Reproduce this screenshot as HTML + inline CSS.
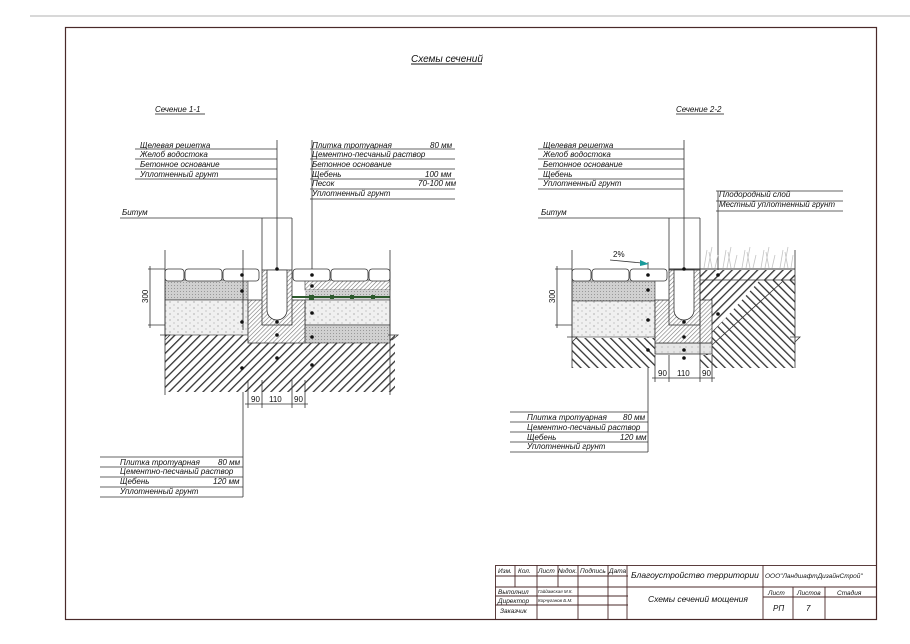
<!DOCTYPE html>
<html><head><meta charset="utf-8"><style>
html,body{margin:0;padding:0;background:#fff}
svg{display:block}
text{font-family:"Liberation Sans",sans-serif;font-style:italic;fill:#111}
</style></head><body>
<svg width="910" height="644" viewBox="0 0 910 644" xmlns="http://www.w3.org/2000/svg">
<defs>
<pattern id="h1" width="6" height="6" patternUnits="userSpaceOnUse" patternTransform="rotate(45)">
<rect width="6" height="6" fill="#fff"/><rect x="0" y="0" width="1.3" height="6" fill="#333"/></pattern>
<pattern id="h2" width="6" height="6" patternUnits="userSpaceOnUse" patternTransform="rotate(-45)">
<rect width="6" height="6" fill="#fff"/><rect x="0" y="0" width="1.3" height="6" fill="#333"/></pattern>
<pattern id="hf" width="3" height="3" patternUnits="userSpaceOnUse" patternTransform="rotate(45)">
<rect width="3" height="3" fill="#fff"/><rect width="0.6" height="3" fill="#777"/></pattern>
<pattern id="cem" width="3" height="3" patternUnits="userSpaceOnUse">
<rect width="3" height="3" fill="#d0d0d0"/><rect width="1" height="1" fill="#999"/></pattern>
<pattern id="sand" width="8" height="6" patternUnits="userSpaceOnUse">
<rect width="8" height="6" fill="#f0f0f0"/><circle cx="2" cy="2" r="0.6" fill="#888"/><circle cx="6" cy="5" r="0.6" fill="#aaa"/></pattern>
<pattern id="lsand" width="6" height="5" patternUnits="userSpaceOnUse">
<rect width="6" height="5" fill="#e6e6e6"/><circle cx="2" cy="2" r="0.5" fill="#888"/></pattern>
</defs>
<line x1="30" y1="16" x2="910" y2="16" stroke="#ccc" stroke-width="1.5"/>
<rect x="65.5" y="27.5" width="811" height="592" fill="none" stroke="#4a2a2a" stroke-width="1.2"/>

<text x="411" y="62" font-size="10">Схемы сечений</text><line x1="411" y1="64" x2="482" y2="64" stroke="#111"/>
<text x="155" y="112" font-size="8">Сечение 1-1</text><line x1="155" y1="114" x2="205" y2="114" stroke="#111" stroke-width=".7"/>
<text x="676" y="112" font-size="8">Сечение 2-2</text><line x1="676" y1="114" x2="724" y2="114" stroke="#111" stroke-width=".7"/>

<g font-size="8" stroke="none">
<text x="140" y="148">Щелевая решетка</text><text x="140" y="157">Желоб водостока</text><text x="140" y="167">Бетонное основание</text><text x="140" y="177">Уплотненный грунт</text>
<text x="312" y="148">Плитка тротуарная</text><text x="430" y="148">80 мм</text>
<text x="312" y="157">Цементно-песчаный раствор</text><text x="312" y="167">Бетонное основание</text>
<text x="312" y="177">Щебень</text><text x="425" y="177">100 мм</text>
<text x="312" y="186">Песок</text><text x="418" y="186">70-100 мм</text>
<text x="312" y="196">Уплотненный грунт</text>
<text x="122" y="215">Битум</text>
<text x="120" y="465">Плитка тротуарная</text><text x="218" y="465">80 мм</text>
<text x="120" y="474">Цементно-песчаный раствор</text>
<text x="120" y="484">Щебень</text><text x="213" y="484">120 мм</text>
<text x="120" y="494">Уплотненный грунт</text>
<text x="543" y="148">Щелевая решетка</text><text x="543" y="157">Желоб водостока</text><text x="543" y="167">Бетонное основание</text><text x="543" y="177">Щебень</text><text x="543" y="186">Уплотненный грунт</text>
<text x="719" y="197">Плодородный слой</text><text x="719" y="207">Местный уплотненный грунт</text>
<text x="541" y="215">Битум</text>
<text x="527" y="420">Плитка тротуарная</text><text x="623" y="420">80 мм</text>
<text x="527" y="430">Цементно-песчаный раствор</text>
<text x="527" y="440">Щебень</text><text x="620" y="440">120 мм</text>
<text x="527" y="449">Уплотненный грунт</text>
</g>

<g stroke="#333" stroke-width=".8" fill="none">
<path d="M135 149H277M135 159H277M135 169H277M135 179H277M277 140V270"/>
<path d="M310 149H455M310 159H455M310 169H455M310 179H455M310 189H455M310 199H455M312 140V372"/>
<path d="M120 218H292M262 218V270M292 218V270"/>
<path d="M100 457H243M100 467H243M100 477H243M100 487H243M100 497H243M243 330V497"/>
<path d="M538 149H684M538 159H684M538 169H684M538 179H684M538 189H684M684 140V270"/>
<path d="M716 191H843M716 201H843M716 211H843M718 191V318"/>
<path d="M538 218H700M669 218V270M700 218V270"/>
<path d="M510 412H648M510 422H648M510 432H648M510 442H648M510 452H648M648 262V452"/>
</g>

<rect x="165" y="335" width="230" height="57" fill="url(#h1)"/>
<rect x="165" y="280" width="83" height="20" fill="url(#cem)" stroke="#333" stroke-width=".6"/>
<rect x="165" y="300" width="83" height="35" fill="url(#sand)" stroke="#333" stroke-width=".6"/>
<rect x="305" y="280" width="85" height="10" fill="url(#hf)" stroke="#333" stroke-width=".6"/>
<rect x="305" y="290" width="85" height="10" fill="url(#cem)"/>
<rect x="305" y="300" width="85" height="25" fill="url(#sand)" stroke="#333" stroke-width=".6"/>
<rect x="305" y="325" width="85" height="18" fill="url(#cem)" stroke="#333" stroke-width=".6"/>
<line x1="292" y1="297" x2="390" y2="297" stroke="#2d5a2d" stroke-width="2"/>
<g fill="#2d5a2d"><rect x="309" y="295" width="5" height="5"/><rect x="330" y="295" width="4" height="4"/><rect x="350" y="295" width="4" height="4"/><rect x="371" y="295" width="4" height="4"/></g>
<rect x="248" y="300" width="57" height="43" fill="url(#hf)" stroke="#333" stroke-width=".8"/>
<rect x="262" y="270" width="30" height="55" fill="url(#hf)" stroke="#333" stroke-width=".8"/>
<path d="M267 270V310A10 10 0 0 0 287 310V270Z" fill="#fff" stroke="#333" stroke-width=".8"/>
<g fill="#fff" stroke="#333" stroke-width=".8">
<rect x="165" y="269" width="19" height="12" rx="3"/><rect x="185" y="269" width="37" height="12" rx="3"/><rect x="223" y="269" width="36" height="12" rx="3"/>
<rect x="293" y="269" width="37" height="12" rx="3"/><rect x="331" y="269" width="37" height="12" rx="3"/><rect x="369" y="269" width="21" height="12" rx="3"/>
</g>
<g stroke="#333" stroke-width=".8" fill="none">
<path d="M165 250V395M390 250V395M243 250V330M148 269H165M148 325H165M150 266V328M305 380V408M248 380V408M262 380V408M292 380V408M245 404H308"/>
<path d="M160 335H170L165 340M388 335H398L392 340"/>
</g>
<text x="148" y="303" font-size="8" transform="rotate(-90 148 303)" style="font-style:normal">300</text>
<text x="251" y="402" font-size="8" style="font-style:normal">90</text><text x="269" y="402" font-size="8" style="font-style:normal">110</text><text x="294" y="402" font-size="8" style="font-style:normal">90</text>
<g fill="#111"><circle cx="277" cy="269" r="1.8"/><circle cx="242" cy="275" r="1.8"/><circle cx="242" cy="291" r="1.8"/><circle cx="242" cy="322" r="1.8"/><circle cx="242" cy="368" r="1.8"/>
<circle cx="277" cy="322" r="1.8"/><circle cx="277" cy="335" r="1.8"/><circle cx="277" cy="358" r="1.8"/>
<circle cx="312" cy="275" r="1.8"/><circle cx="312" cy="286" r="1.8"/><circle cx="312" cy="313" r="1.8"/><circle cx="312" cy="337" r="1.8"/><circle cx="312" cy="365" r="1.8"/></g>

<rect x="572" y="338" width="83" height="30" fill="url(#h2)"/>
<rect x="572" y="281" width="83" height="20" fill="url(#cem)" stroke="#333" stroke-width=".6"/>
<rect x="572" y="301" width="83" height="36" fill="url(#sand)" stroke="#333" stroke-width=".6"/>
<rect x="700" y="270" width="95" height="98" fill="url(#h2)"/>
<path d="M700 270H795V280H760L712 333V355H700Z" fill="url(#h1)"/>
<line x1="700" y1="280" x2="795" y2="280" stroke="#333" stroke-width=".8"/>
<line x1="712" y1="345" x2="782" y2="282" stroke="#333" stroke-width=".8"/>
<rect x="655" y="343" width="57" height="11" fill="url(#lsand)" stroke="#333" stroke-width=".8"/>
<rect x="655" y="300" width="57" height="43" fill="url(#hf)" stroke="#333" stroke-width=".8"/>
<rect x="669" y="270" width="31" height="55" fill="url(#hf)" stroke="#333" stroke-width=".8"/>
<path d="M674 270V310A10 10 0 0 0 694 310V270Z" fill="#fff" stroke="#333" stroke-width=".8"/>
<g fill="#fff" stroke="#333" stroke-width=".8">
<rect x="572" y="269" width="19" height="12" rx="3"/><rect x="592" y="269" width="37" height="12" rx="3"/><rect x="630" y="269" width="37" height="12" rx="3"/>
</g>
<line x1="669" y1="269" x2="795" y2="269" stroke="#333" stroke-width="1"/>
<g stroke="#c4c4c4" stroke-width=".8" fill="none">
<path d="M704 268L707 250M708 268L712 247M712 268L709 252M715 268L718 255M723 268L726 250M727 268L731 247M731 268L728 252M734 268L737 255M742 268L745 250M746 268L750 247M750 268L747 252M753 268L756 255M761 268L764 250M765 268L769 247M769 268L766 252M772 268L775 255M780 268L783 250M784 268L788 247M788 268L785 252M791 268L793 255"/>
</g>
<g stroke="#333" stroke-width=".8" fill="none">
<path d="M572 250V368M795 250V368M555 269H572M555 325H572M557 266V328M655 355V382M669 355V382M700 270V382M712 355V382M652 378H715"/>
<path d="M567 337H577L572 342M790 337H800L795 342"/>
</g>
<line x1="610" y1="260" x2="642" y2="263" stroke="#333" stroke-width=".8"/>
<path d="M640 260L649 264L640 266Z" fill="#1a9a9a"/>
<text x="613" y="257" font-size="8" style="font-style:normal">2%</text>
<text x="555" y="303" font-size="8" transform="rotate(-90 555 303)" style="font-style:normal">300</text>
<text x="658" y="376" font-size="8" style="font-style:normal">90</text><text x="677" y="376" font-size="8" style="font-style:normal">110</text><text x="702" y="376" font-size="8" style="font-style:normal">90</text>
<g fill="#111"><circle cx="684" cy="269" r="1.8"/><circle cx="648" cy="275" r="1.8"/><circle cx="648" cy="290" r="1.8"/><circle cx="648" cy="320" r="1.8"/><circle cx="648" cy="350" r="1.8"/>
<circle cx="684" cy="322" r="1.8"/><circle cx="684" cy="337" r="1.8"/><circle cx="684" cy="350" r="1.8"/><circle cx="684" cy="358" r="1.8"/>
<circle cx="718" cy="275" r="1.8"/><circle cx="718" cy="314" r="1.8"/></g>

<g stroke="#4a2a2a" stroke-width=".9" fill="none">
<rect x="495.5" y="565.5" width="381" height="54"/>
<path d="M495 576H628M495 587H628M495 596H628M495 605H628M627 565V620M763 565V620M763 587H876M763 597H876M793 587V620M825 587V620M628 587H763"/>
<path d="M515 565V587M537 565V620M558 565V587M578 565V620M608 565V620"/>
</g>
<g font-size="6.5">
<text x="498" y="573">Изм.</text><text x="518" y="573">Кол.</text><text x="538" y="573">Лист</text><text x="558" y="573">№док.</text><text x="580" y="573">Подпись</text><text x="609" y="573">Дата</text>
<text x="498" y="594">Выполнил</text><text x="498" y="603">Директор</text><text x="500" y="613">Заказчик</text>
<text x="538" y="593" font-size="4.5">Гайдамская М.К.</text><text x="538" y="602" font-size="4.5">Корчуганов Б.М.</text>
<text x="768" y="595">Лист</text><text x="797" y="595">Листов</text><text x="837" y="595">Стадия</text>
<text x="773" y="611" font-size="8">РП</text><text x="806" y="611" font-size="8">7</text>
<text x="765" y="578" font-size="6.5">ООО"ЛандшафтДизайнСтрой"</text>
</g>
<text x="631" y="578" font-size="8.5">Благоустройство территории</text>
<text x="648" y="602" font-size="8.5">Схемы сечений мощения</text>
</svg>
</body></html>
